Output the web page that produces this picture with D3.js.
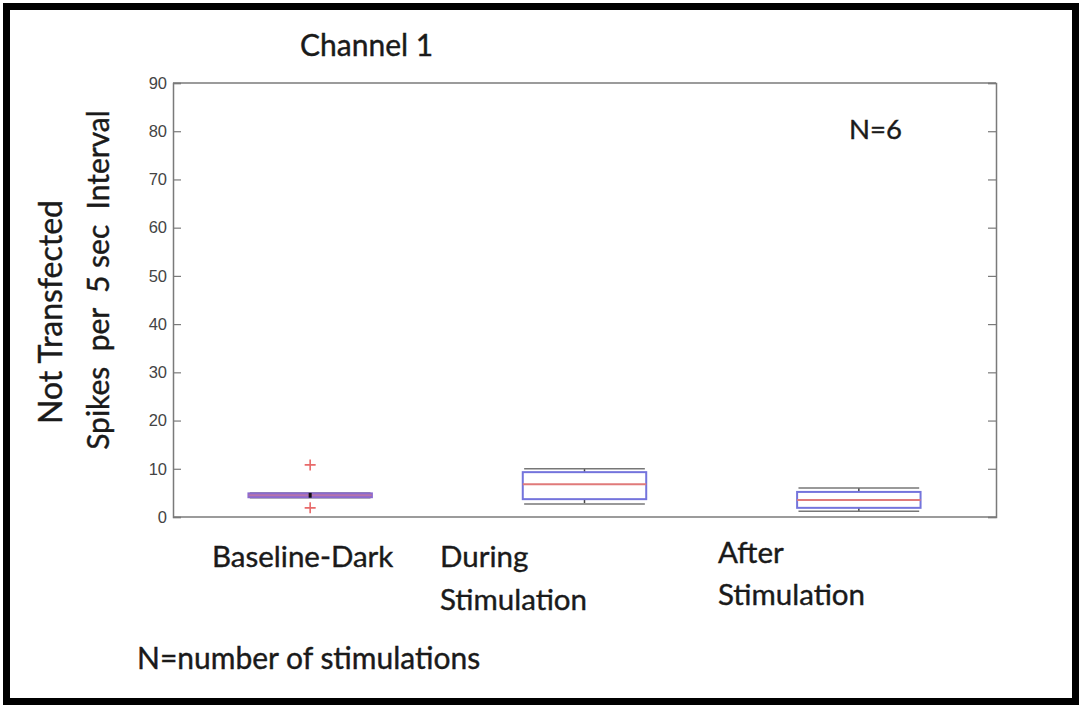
<!DOCTYPE html>
<html>
<head>
<meta charset="utf-8">
<script src="https://cdn.jsdelivr.net/npm/d3@7"></script>
<style>
  body { margin: 0; background: #fff; }
  svg { display: block; }
</style>
</head>
<body>
<div id="chart"></div>
<script>
// box plot values
const categories = ["Baseline-Dark", "During Stimulation", "After Stimulation"];
const q1 = [4.1, 3.7, 1.9];
const median = [4.5, 6.8, 3.5];
const q3 = [4.9, 9.3, 5.2];
const whiskerLow = [4.0, 2.7, 1.2];
const whiskerHigh = [5.0, 10.0, 6.0];
const outliers = [[10.8, 1.9], [], []];
const yTicks = [0, 10, 20, 30, 40, 50, 60, 70, 80, 90];

const width = 1082, height = 708;
const margin = {left: 173, top: 83, right: 86, bottom: 191};

const svg = d3.select("#chart").append("svg")
    .attr("width", width)
    .attr("height", height);

// outer black frame
svg.append("rect")
    .attr("x", 6.5).attr("y", 6.5)
    .attr("width", width - 13).attr("height", height - 13)
    .attr("fill", "#fff")
    .attr("stroke", "#000")
    .attr("stroke-width", 7);

const x = d3.scaleLinear()
    .domain([0.5, categories.length + 0.5])
    .range([margin.left, width - margin.right]);

const y = d3.scaleLinear()
    .domain([0, 90])
    .range([height - margin.bottom, margin.top]);

const axisColor = "#7a7a7a";

// left axis with inward ticks
const left = svg.append("g")
    .attr("transform", `translate(${margin.left},0)`)
    .call(d3.axisLeft(y).tickValues(yTicks).tickSize(-8).tickPadding(6));
left.select(".domain").attr("stroke", axisColor).attr("stroke-width", 1.5);
left.selectAll(".tick line").attr("stroke", axisColor).attr("stroke-width", 1.2);
left.selectAll(".tick text")
    .attr("fill", "#444")
    .style("font", "16.5px 'Liberation Sans', Arial, sans-serif");

const right = svg.append("g")
    .attr("transform", `translate(${width - margin.right},0)`)
    .call(d3.axisRight(y).tickValues(yTicks).tickSize(-8).tickFormat(""));
right.select(".domain").attr("stroke", axisColor).attr("stroke-width", 1.5);
right.selectAll(".tick line").attr("stroke", axisColor).attr("stroke-width", 1.2);

// top and bottom frame lines
svg.append("g")
    .attr("stroke", axisColor)
    .attr("stroke-width", 1.5)
    .selectAll("line")
    .data([0, 90])
    .join("line")
    .attr("x1", x.range()[0]).attr("x2", x.range()[1])
    .attr("y1", d => y(d)).attr("y2", d => y(d));

const boxW = 0.45, capW = 0.22;
const boxes = svg.append("g")
    .selectAll("g")
    .data(categories)
    .join("g");

// whiskers
boxes.append("line")
    .attr("x1", (d, i) => x(i + 1)).attr("x2", (d, i) => x(i + 1))
    .attr("y1", (d, i) => y(q3[i])).attr("y2", (d, i) => y(whiskerHigh[i]))
    .attr("stroke", "#444").attr("stroke-width", 1.5).attr("stroke-dasharray", "4,2");
boxes.append("line")
    .attr("x1", (d, i) => x(i + 1)).attr("x2", (d, i) => x(i + 1))
    .attr("y1", (d, i) => y(q1[i])).attr("y2", (d, i) => y(whiskerLow[i]))
    .attr("stroke", "#444").attr("stroke-width", 1.5).attr("stroke-dasharray", "4,2");

// caps
[whiskerLow, whiskerHigh].forEach(w => {
    boxes.append("line")
        .attr("x1", (d, i) => x(i + 1 - capW)).attr("x2", (d, i) => x(i + 1 + capW))
        .attr("y1", (d, i) => y(w[i])).attr("y2", (d, i) => y(w[i]))
        .attr("stroke", "#777").attr("stroke-width", 1.5);
});

// boxes
boxes.append("rect")
    .attr("x", (d, i) => x(i + 1 - boxW / 2))
    .attr("width", (d, i) => x(i + 1 + boxW / 2) - x(i + 1 - boxW / 2))
    .attr("y", (d, i) => y(q3[i]))
    .attr("height", (d, i) => y(q1[i]) - y(q3[i]))
    .attr("fill", (d, i) => q3[i] - q1[i] < 1 ? "#9a70cc" : "#fff")
    .attr("stroke", (d, i) => q3[i] - q1[i] < 1 ? "#8a6ad0" : "#7474dc")
    .attr("stroke-width", 2);

// medians
boxes.append("line")
    .attr("x1", (d, i) => x(i + 1 - boxW / 2)).attr("x2", (d, i) => x(i + 1 + boxW / 2))
    .attr("y1", (d, i) => y(median[i])).attr("y2", (d, i) => y(median[i]))
    .attr("stroke", "#e07a7a").attr("stroke-width", 2)
    .attr("stroke-opacity", (d, i) => q3[i] - q1[i] < 1 ? 0.4 : 1);

// small dark centre mark of the collapsed box
boxes.filter((d, i) => q3[i] - q1[i] < 1)
    .append("line")
    .attr("x1", (d, i) => x(i + 1)).attr("x2", (d, i) => x(i + 1))
    .attr("y1", (d, i) => y(whiskerHigh[i])).attr("y2", (d, i) => y(whiskerLow[i]))
    .attr("stroke", "#111").attr("stroke-width", 3);

// outliers as red plus marks
const pts = outliers.flatMap((vals, i) => vals.map(v => ({i, v})));
svg.append("g")
    .attr("stroke", "#e86a6a")
    .attr("stroke-width", 1.6)
    .selectAll("path")
    .data(pts)
    .join("path")
    .attr("d", d => {
        const cx = x(d.i + 1), cy = y(d.v), r = 5.5;
        return `M${cx - r},${cy}H${cx + r}M${cx},${cy - r}V${cy + r}`;
    });

// texts
const font = "Lato, 'Open Sans', sans-serif";
const txt = (s, tx, ty, size, rot) => svg.append("text")
    .attr("transform", `translate(${tx},${ty})` + (rot ? " rotate(-90)" : ""))
    .attr("text-anchor", rot ? "middle" : "start")
    .attr("fill", "#1a1a1a")
    .attr("stroke", "#1a1a1a")
    .attr("stroke-width", 0.4)
    .style("font-family", font)
    .style("font-size", size + "px")
    .style("white-space", "pre")
    .text(s);

txt("Channel 1", 300, 56, 30);
txt("N=6", 849, 139, 27.5);
txt("Baseline-Dark", 212, 567, 29.5);
txt("During", 440, 567, 29.5);
txt("Stimulation", 440, 610, 29.5);
txt("After", 718, 563, 29.5);
txt("Stimulation", 718, 605, 29.5);
txt("N=number of stimulations", 137, 669, 30);
txt("Not Transfected", 62, 312, 32, true);
txt("Spikes  per  5 sec  Interval", 109, 280, 30, true);
</script>
</body>
</html>
